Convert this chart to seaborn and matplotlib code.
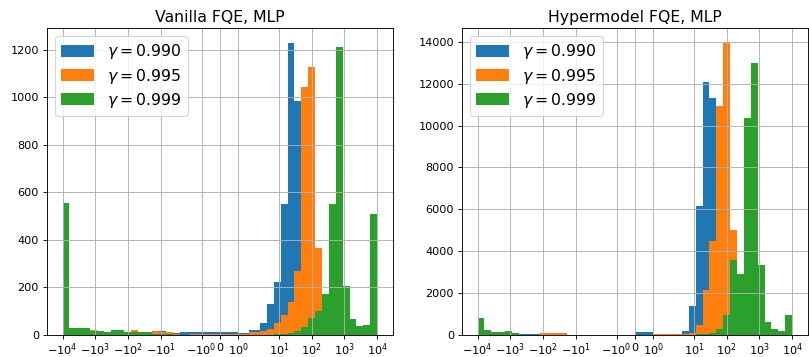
import numpy as np
import pandas as pd
import matplotlib
matplotlib.use("Agg")
import matplotlib.pyplot as plt
from matplotlib.ticker import FixedLocator, NullLocator
import seaborn as sns

# Bin edges: log-spaced for |x| >= 1, a single linear bin on each side of zero
pos_edges = np.logspace(0, 4, 20)
bin_edges = np.concatenate([-pos_edges[::-1], [0.0], pos_edges])
bin_centers = 0.5 * (bin_edges[:-1] + bin_edges[1:])

gammas = ["0.990", "0.995", "0.999"]
colors = ["#1f77b4", "#ff7f0e", "#2ca02c"]

# Counts per bin (left to right, 40 bins) -- Vanilla FQE
vanilla_990 = [2, 1, 2, 2, 3, 3, 4, 3, 4, 5, 6, 8, 9, 10, 18, 10, 8, 14, 14,
               14, 14,
               7, 19, 49, 129, 221, 552, 1228, 985, 610, 240, 70, 22, 8, 3, 1, 0, 0, 0, 0]
vanilla_995 = [0, 1, 2, 1, 23, 8, 9, 10, 12, 12, 23, 14, 14, 18, 14, 14, 5, 0, 6,
               6, 6,
               3, 11, 16, 24, 49, 84, 138, 271, 1043, 1127, 364, 110, 30, 8, 3, 1, 0, 0, 0]
vanilla_999 = [553, 31, 31, 31, 18, 18, 13, 22, 22, 14, 14, 12, 12, 6, 4, 3, 2, 2, 1,
               1, 0,
               0, 1, 1, 2, 3, 5, 10, 15, 34, 70, 103, 171, 552, 1211, 208, 66, 36, 41, 510]

# Counts per bin -- Hypermodel FQE
hyper_990 = [10, 8, 10, 12, 20, 35, 35, 35, 30, 20, 15, 15, 15, 12, 12, 12, 10, 10, 10,
             10, 125,
             15, 15, 25, 175, 1370, 6170, 12080, 11310, 5200, 1600, 400, 120, 50, 20, 10, 5, 2, 1, 1]
hyper_995 = [5, 5, 5, 5, 5, 5, 5, 5, 5, 80, 80, 80, 80, 15, 20, 20, 20, 20, 20,
             20, 20,
             25, 30, 35, 40, 79, 465, 2130, 4500, 10940, 13950, 5030, 1400, 350, 90, 40, 20, 10, 10, 30]
hyper_999 = [790, 260, 160, 160, 210, 80, 20, 20, 10, 5, 5, 5, 5, 10, 10, 10, 10, 10, 10,
             5, 5,
             5, 5, 5, 10, 20, 40, 50, 80, 270, 940, 3600, 2890, 10360, 12980, 3365, 640, 270, 175, 940]

titles = ["Vanilla FQE, MLP", "Hypermodel FQE, MLP"]
panels = [[vanilla_990, vanilla_995, vanilla_999],
          [hyper_990, hyper_995, hyper_999]]

tick_values = [-1e4, -1e3, -1e2, -1e1, -1, 0, 1, 1e1, 1e2, 1e3, 1e4]
tick_labels = [r"$\mathdefault{-10^{4}}$", r"$\mathdefault{-10^{3}}$",
               r"$\mathdefault{-10^{2}}$", r"$\mathdefault{-10^{1}}$",
               r"$\mathdefault{-10^{0}}$", r"$\mathdefault{0}$",
               r"$\mathdefault{10^{0}}$", r"$\mathdefault{10^{1}}$",
               r"$\mathdefault{10^{2}}$", r"$\mathdefault{10^{3}}$",
               r"$\mathdefault{10^{4}}$"]

W, H, DPI = 809, 357, 81
fig = plt.figure(figsize=(W / DPI, H / DPI), dpi=DPI)
axes = [fig.add_axes([46.8 / W, 22.0 / H, 346 / W, 306.7 / H]),
        fig.add_axes([461.8 / W, 22.0 / H, 346 / W, 306.7 / H])]

for ax, title, series in zip(axes, titles, panels):
    # draw in linear data space, then switch the axis to symlog
    for counts, color, g in zip(series, colors, gammas):
        df = pd.DataFrame({"value": bin_centers, "count": counts})
        sns.histplot(data=df, x="value", weights="count", bins=list(bin_edges),
                     color=color, alpha=1, linewidth=0, element="bars",
                     ax=ax, label=rf"$\gamma={g}$")
    ax.set_xscale("symlog", linthresh=2, linscale=1)
    ax.xaxis.set_major_locator(FixedLocator(tick_values))
    ax.xaxis.set_minor_locator(NullLocator())
    ax.set_xticklabels(tick_labels)
    ax.set_ylabel("")
    ax.set_xlabel("")
    ax.grid(True, color="#b0b0b0", linewidth=0.8)
    ax.set_axisbelow("line")
    ax.tick_params(labelsize=10)
    ax.tick_params(axis="x", pad=2)
    ax.set_title(title, fontsize=14)
    ax.legend(loc="upper left", fontsize=14, labelspacing=0.33,
              handlelength=2.1, handleheight=0.8)

fig.savefig("out.png", dpi=DPI)
